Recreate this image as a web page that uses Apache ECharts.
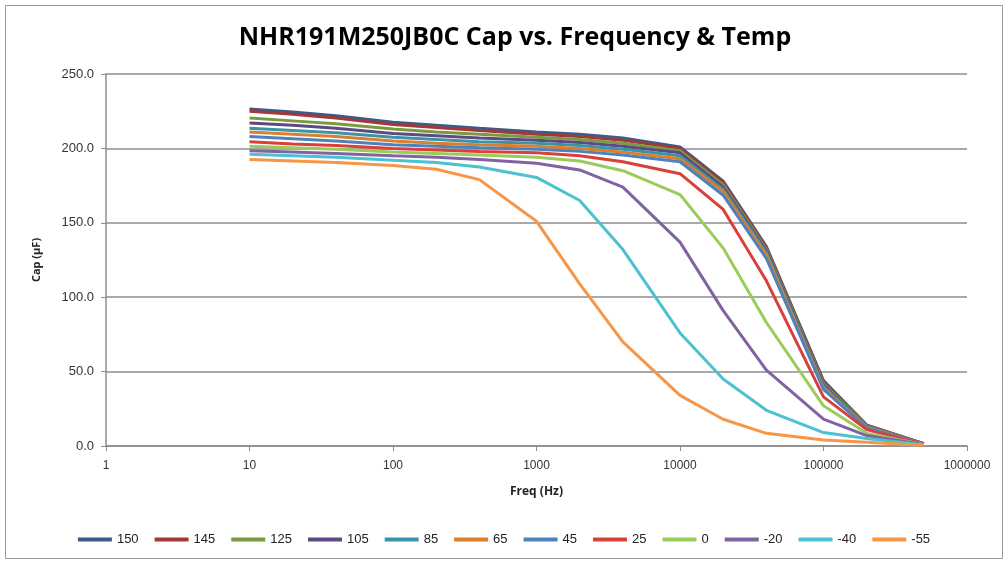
<!DOCTYPE html>
<html>
<head>
<meta charset="utf-8">
<script src="https://cdn.jsdelivr.net/npm/echarts@6/dist/echarts.min.js"></script>
<style>
  html, body { margin: 0; padding: 0; background: #ffffff; }
  #chart { width: 1008px; height: 563px; }
</style>
</head>
<body>
<div id="chart"></div>
<script>
// Frequencies (Hz)
const freqs = [10, 20, 40, 100, 200, 400, 1000, 2000, 4000, 10000, 20000, 40000, 100000, 200000, 500000];

// Capacitance (µF) per temperature
const temps = ['150', '145', '125', '105', '85', '65', '45', '25', '0', '-20', '-40', '-55'];
const cap150 = [226.5, 224.5, 222, 217.5, 215.5, 213.5, 211, 209.5, 207, 201, 178, 134, 44, 14, 1.5];
const cap145 = [225, 223, 220.5, 216, 214, 212, 209.5, 208, 205.5, 200, 177, 133, 43, 14, 1.5];
const cap125 = [220.5, 218.5, 216.5, 213, 211, 209.5, 207.5, 206, 203.5, 198.5, 175.5, 132, 42, 13.5, 1.4];
const cap105 = [217, 215.5, 213.5, 210, 208.5, 207, 205.5, 204, 201.5, 197, 174, 131, 41, 13, 1.4];
const cap85  = [213.5, 212, 210.5, 207.5, 206, 204.5, 203.5, 202, 199.5, 195, 172.5, 130, 40, 13, 1.3];
const cap65  = [211, 209.5, 208, 205, 203.5, 202.5, 201.5, 200, 197.5, 193, 171, 128.5, 39, 12.5, 1.3];
const cap45  = [208, 206.5, 205, 202.5, 201.5, 200.5, 199.5, 198, 195.5, 191, 168.5, 126, 38, 12, 1.2];
const cap25  = [204.5, 203, 202, 200, 199, 198, 197, 195, 191, 183, 159, 111, 33, 11, 1.2];
const cap0   = [201.5, 200.5, 199.5, 197.5, 196.5, 195.5, 194, 191.5, 185, 169, 133, 83, 27, 8.5, 1.1];
const capM20 = [198.5, 197.5, 196.5, 195, 194, 192.5, 190, 185.5, 174, 137, 91, 51, 18, 7, 1];
const capM40 = [196, 195, 194, 192, 190.5, 187.5, 180.5, 165, 132, 76, 45, 24, 9, 5, 0.8];
const capM55 = [192.5, 191.5, 190.5, 188.5, 186, 179, 151, 109, 70, 34, 18, 8.5, 4, 2.5, 0.5];

const seriesValues = [cap150, cap145, cap125, cap105, cap85, cap65, cap45, cap25, cap0, capM20, capM40, capM55];
const colors = ['#3B5C86', '#A3383A', '#7A9A42', '#5E4A82', '#3B93A8', '#DA7F2C',
                '#4F81BD', '#D9403C', '#9BCB5A', '#8064A2', '#4BC1D2', '#F79646'];

// Tick labels
const yTicks = [0, 50, 100, 150, 200, 250];

const chart = echarts.init(document.getElementById('chart'), null, { renderer: 'canvas' });

const series = temps.map((t, i) => ({
  name: t,
  type: 'line',
  data: freqs.map((f, j) => [f, seriesValues[i][j]]),
  showSymbol: false,
  symbol: 'none',
  lineStyle: { width: 3, color: colors[i] },
  itemStyle: { color: colors[i] },
  emphasis: { disabled: true },
  animation: false
}));

chart.setOption({
  animation: false,
  backgroundColor: '#ffffff',
  textStyle: { fontFamily: 'Liberation Sans' },
  title: {
    text: 'NHR191M250JB0C Cap vs. Frequency & Temp',
    left: 510,
    top: 20,
    textAlign: 'center',
    textStyle: { fontFamily: 'Open Sans', fontSize: 25, fontWeight: 'bold', color: '#000000' }
  },
  graphic: [{
    type: 'rect',
    shape: { x: 5.5, y: 5.5, width: 997, height: 553 },
    style: { fill: null, stroke: '#9a9a9a', lineWidth: 1 },
    silent: true
  }],
  legend: {
    data: temps,
    left: 'center',
    top: 528,
    icon: 'rect',
    itemWidth: 34,
    itemHeight: 4,
    itemGap: 16,
    textStyle: { fontFamily: 'Liberation Sans Narrow, Liberation Sans', fontSize: 13, color: '#222' },
    selectedMode: false
  },
  grid: { left: 106, top: 74, width: 861, height: 372, containLabel: false },
  xAxis: {
    type: 'log',
    logBase: 10,
    min: 1,
    max: 1000000,
    name: 'Freq (Hz)',
    nameLocation: 'middle',
    nameGap: 40,
    nameTextStyle: { fontFamily: 'Open Sans', fontWeight: 'bold', fontSize: 12, color: '#222' },
    axisLine: { lineStyle: { color: '#8c8c8c', width: 1.5 } },
    axisTick: { show: true, length: 5, lineStyle: { color: '#8c8c8c' } },
    minorTick: { show: false },
    splitLine: { show: false },
    axisLabel: {
      margin: 14,
      fontSize: 12,
      color: '#333',
      formatter: v => String(Math.round(v))
    }
  },
  yAxis: {
    type: 'value',
    min: yTicks[0],
    max: yTicks[yTicks.length - 1],
    interval: 50,
    name: 'Cap (µF)',
    nameLocation: 'middle',
    nameGap: 64,
    nameTextStyle: { fontFamily: 'Open Sans', fontWeight: 'bold', fontSize: 11, color: '#222' },
    axisLine: { show: true, lineStyle: { color: '#8c8c8c', width: 1.5 } },
    axisTick: { show: true, length: 5, inside: false, lineStyle: { color: '#8c8c8c' } },
    splitLine: { show: true, lineStyle: { color: '#8c8c8c', width: 1.5 } },
    axisLabel: {
      margin: 12,
      fontSize: 13,
      color: '#333',
      formatter: v => v.toFixed(1)
    }
  },
  series: series
});
</script>
</body>
</html>
